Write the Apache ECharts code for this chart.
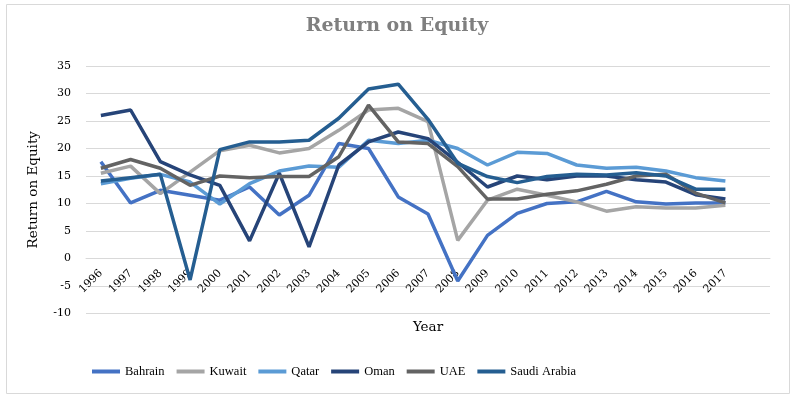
<!DOCTYPE html>
<html>
<head>
<meta charset="utf-8">
<script src="https://cdn.jsdelivr.net/npm/echarts@6/dist/echarts.min.js"></script>
<style>
    html, body { margin: 0; padding: 0; background: #fff; }
    #main { width: 794px; height: 400px; }
</style>
</head>
<body>
<div id="main"></div>
<script>
// 年份 (last slot left empty, as in the source chart)
const years = ['1996', '1997', '1998', '1999', '2000', '2001', '2002', '2003', '2004', '2005', '2006',
    '2007', '2008', '2009', '2010', '2011', '2012', '2013', '2014', '2015', '2016', '2017', '']

const bahrain = [17.6, 10.1, 12.4, 11.5, 10.6, 13.0, 7.9, 11.5, 20.9, 20.0, 11.2,
    8.1, -4.1, 4.2, 8.2, 10.0, 10.3, 12.2, 10.3, 9.9, 10.1, 10.1]
const kuwait = [15.5, 16.8, 11.8, 15.7, 19.6, 20.6, 19.2, 20.0, 23.3, 27.0, 27.3,
    24.9, 3.3, 10.6, 12.6, 11.5, 10.3, 8.6, 9.4, 9.2, 9.2, 9.7]
const qatar = [13.6, 14.6, 15.3, 13.9, 9.9, 13.6, 15.9, 16.8, 16.6, 21.5, 20.9,
    21.5, 20.0, 17.0, 19.3, 19.1, 17.0, 16.4, 16.6, 15.9, 14.7, 14.1]
const oman = [26.0, 27.0, 17.6, 15.2, 13.3, 3.2, 15.5, 2.1, 17.0, 21.2, 23.0,
    21.8, 17.5, 13.0, 15.0, 14.3, 15.0, 15.0, 14.3, 13.9, 11.6, 10.8]
const uae = [16.4, 18.0, 16.4, 13.3, 15.0, 14.7, 14.9, 14.9, 18.5, 27.9, 21.2,
    20.9, 16.7, 10.8, 10.8, 11.7, 12.3, 13.5, 15.0, 15.3, 11.9, 10.1]
const saudi = [14.1, 14.7, 15.3, -3.9, 19.8, 21.2, 21.2, 21.5, 25.5, 30.8, 31.7,
    25.3, 17.3, 14.9, 13.8, 14.9, 15.3, 15.2, 15.6, 15.0, 12.6, 12.6]

const seriesNames = ['Bahrain', 'Kuwait', 'Qatar', 'Oman', 'UAE', 'Saudi Arabia']
const seriesData = [bahrain, kuwait, qatar, oman, uae, saudi]
const colors = ['#4472c4', '#a5a5a5', '#5b9bd5', '#264478', '#636363', '#255e91']

const font = 'DejaVu Serif'

const myChart = echarts.init(document.getElementById('main'))

const series = seriesNames.map((name, i) => {
    return {
        name: name,
        type: 'line',
        data: seriesData[i],
        symbol: 'none',
        smooth: false,
        lineStyle: { width: 3.5, color: colors[i] },
        itemStyle: { color: colors[i] }
    }
})

const option = {
    animation: false,
    color: colors,
    title: {
        text: 'Return on Equity',
        left: 'center',
        top: 12,
        textStyle: { fontFamily: font, fontSize: 19, fontWeight: 'bold', color: '#7f7f7f' }
    },
    graphic: [{
        type: 'rect',
        shape: { x: 6.5, y: 4.5, width: 783, height: 389 },
        style: { fill: 'none', stroke: '#d9d9d9', lineWidth: 1 },
        silent: true
    }],
    grid: { left: 86, right: 24, top: 66, bottom: 86.5 },
    legend: {
        left: 87,
        top: 360,
        icon: 'rect',
        itemWidth: 28,
        itemHeight: 4,
        itemGap: 12,
        textStyle: { fontFamily: 'Liberation Serif', fontSize: 12.5, color: '#000' },
        data: seriesNames
    },
    xAxis: {
        type: 'category',
        data: years,
        boundaryGap: true,
        // 横轴放在 0 的位置
        offset: -55,
        name: 'Year',
        nameLocation: 'middle',
        nameGap: 62,
        nameTextStyle: { fontFamily: font, fontSize: 13.5, color: '#000' },
        axisLine: { show: true, onZero: false, lineStyle: { color: '#d9d9d9' } },
        axisTick: { show: false },
        axisLabel: {
            interval: 0,
            rotate: 45,
            margin: 13,
            fontFamily: font,
            fontSize: 11,
            color: '#000'
        }
    },
    yAxis: {
        type: 'value',
        min: -10,
        max: 35,
        interval: 5,
        name: 'Return on Equity',
        nameLocation: 'middle',
        nameGap: 46,
        nameTextStyle: { fontFamily: font, fontSize: 13.5, color: '#000' },
        axisLine: { show: false },
        axisTick: { show: false },
        axisLabel: { margin: 15, fontFamily: font, fontSize: 11, color: '#000' },
        splitLine: { lineStyle: { color: '#d9d9d9', width: 1 } }
    },
    series: series
}

myChart.setOption(option)
</script>
</body>
</html>
